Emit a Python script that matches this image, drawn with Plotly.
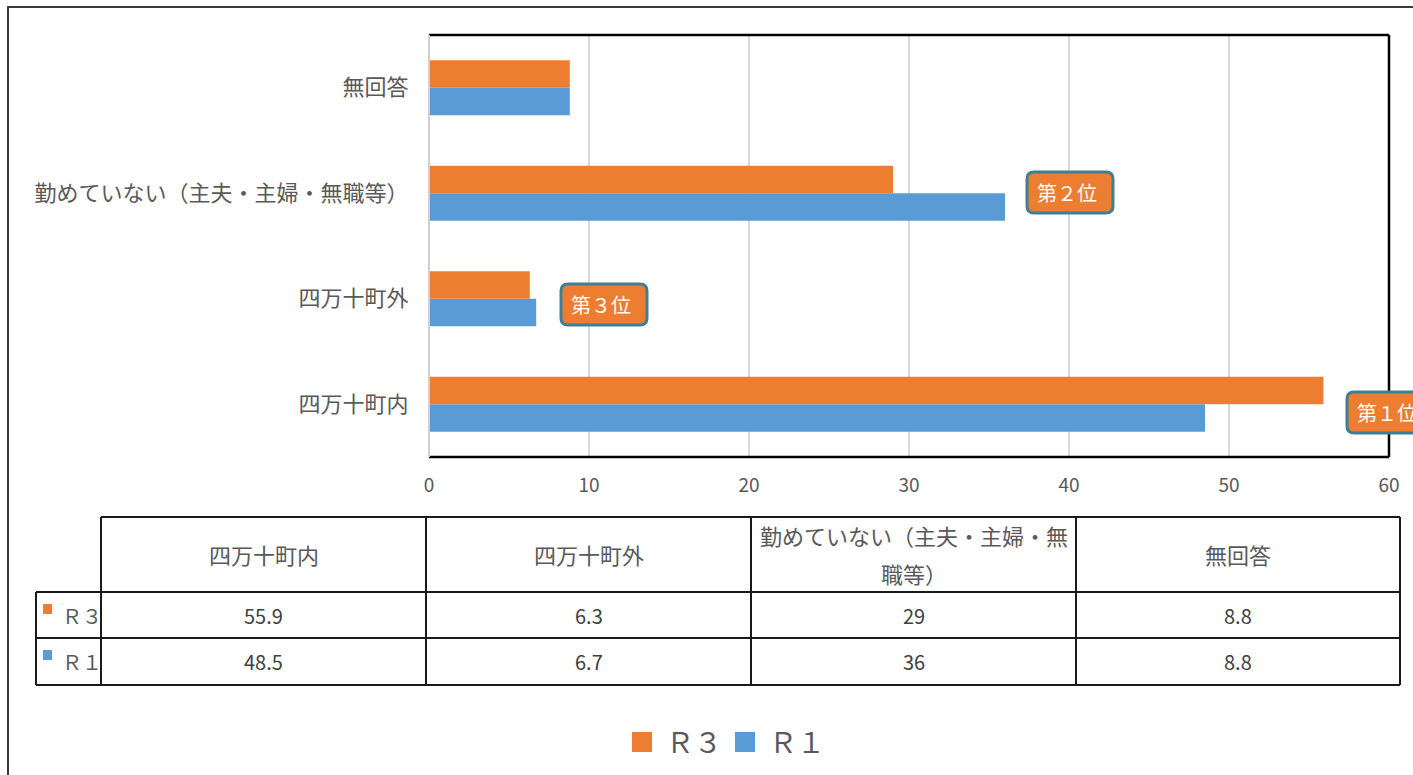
import plotly.graph_objects as go

# ---- data ----
categories = ["四万十町内", "四万十町外", "勤めていない（主夫・主婦・無職等）", "無回答"]
r3_values = [55.9, 6.3, 29, 8.8]
r1_values = [48.5, 6.7, 36, 8.8]
series_names = ["Ｒ３", "Ｒ１"]
rank_labels = ["第１位", "第２位", "第３位"]
x_ticks = [0, 10, 20, 30, 40, 50, 60]

ORANGE = "#ED7D31"
BLUE = "#5B9BD5"
GRAY_TXT = "#595959"
FONT = "Noto Sans CJK JP"

W, H = 1413, 775
L, R, T, B = 429, 1389, 35, 457  # plot area in pixels


def px(x):
    return (x - L) / (R - L)


def py(y):
    return (B - y) / (B - T)


fig = go.Figure()
fig.add_trace(go.Bar(y=categories, x=r1_values, orientation="h", name=series_names[1],
                     marker=dict(color=BLUE, line=dict(width=0)), showlegend=False))
fig.add_trace(go.Bar(y=categories, x=r3_values, orientation="h", name=series_names[0],
                     marker=dict(color=ORANGE, line=dict(width=0)), showlegend=False))

shapes = []
annotations = []

# plot frame: top, right, bottom black; left gray axis
shapes.append(dict(type="line", xref="paper", yref="paper", x0=px(L), x1=px(R), y0=py(T), y1=py(T),
                   line=dict(color="#000000", width=2.5), layer="above"))
shapes.append(dict(type="line", xref="paper", yref="paper", x0=px(R), x1=px(R), y0=py(T), y1=py(B),
                   line=dict(color="#000000", width=2.5), layer="below"))
shapes.append(dict(type="line", xref="paper", yref="paper", x0=px(L), x1=px(R), y0=py(B), y1=py(B),
                   line=dict(color="#000000", width=2.5), layer="above"))
shapes.append(dict(type="line", xref="paper", yref="paper", x0=px(L), x1=px(L), y0=py(T), y1=py(B),
                   line=dict(color="#D0D0D0", width=2), layer="above"))

# outer chart border (partially visible)
shapes.append(dict(type="path", xref="paper", yref="paper",
                   path=f"M {px(8)},{py(800)} L {px(8)},{py(7)} L {px(1450)},{py(7)}",
                   line=dict(color="#3a3a3a", width=2)))


def rounded(x0, y0, x1, y1, r=7):
    return (f"M {px(x0 + r)},{py(y0)} L {px(x1 - r)},{py(y0)} "
            f"Q {px(x1)},{py(y0)} {px(x1)},{py(y0 + r)} "
            f"L {px(x1)},{py(y1 - r)} Q {px(x1)},{py(y1)} {px(x1 - r)},{py(y1)} "
            f"L {px(x0 + r)},{py(y1)} Q {px(x0)},{py(y1)} {px(x0)},{py(y1 - r)} "
            f"L {px(x0)},{py(y0 + r)} Q {px(x0)},{py(y0)} {px(x0 + r)},{py(y0)} Z")


# rank callouts (pixel boxes)
rank_boxes = [(1347, 392, 1440, 433), (1027, 172, 1113, 213), (561, 284, 647, 325)]
for lab, (x0, y0, x1, y1) in zip(rank_labels, rank_boxes):
    shapes.append(dict(type="path", xref="paper", yref="paper", path=rounded(x0, y0, x1, y1),
                       fillcolor=ORANGE, line=dict(color="#3F7F96", width=3), layer="above"))
    annotations.append(dict(xref="paper", yref="paper", x=px(x0 + 8), y=py((y0 + y1) / 2),
                            xanchor="left", yanchor="middle", text=lab, showarrow=False,
                            font=dict(family=FONT, size=20, color="white")))

# ---- data table ----
LINE = dict(color="#1a1a1a", width=2)
col_x = [101, 426, 751, 1076, 1400]
row_y = [517, 592, 638, 685]
for yv in row_y:
    x_start = 101 if yv == 517 else 36
    shapes.append(dict(type="line", xref="paper", yref="paper", x0=px(x_start), x1=px(1400),
                       y0=py(yv), y1=py(yv), line=LINE))
for xv in col_x:
    shapes.append(dict(type="line", xref="paper", yref="paper", x0=px(xv), x1=px(xv),
                       y0=py(517), y1=py(685), line=LINE))
shapes.append(dict(type="line", xref="paper", yref="paper", x0=px(36), x1=px(36),
                   y0=py(592), y1=py(685), line=LINE))

for i, cat in enumerate(categories):
    cx = (col_x[i] + col_x[i + 1]) / 2
    if len(cat) > 14:
        parts = [(cat[:14], 535), (cat[14:], 573)]
    else:
        parts = [(cat, 554)]
    for txt, yy in parts:
        annotations.append(dict(xref="paper", yref="paper", x=px(cx), y=py(yy), text=txt,
                                showarrow=False, xanchor="center", yanchor="middle",
                                font=dict(family=FONT, size=22, color=GRAY_TXT)))
    for vals, yy in ((r3_values, 615), (r1_values, 661)):
        annotations.append(dict(xref="paper", yref="paper", x=px(cx), y=py(yy), text=str(vals[i]),
                                showarrow=False, xanchor="center", yanchor="middle",
                                font=dict(family=FONT, size=20, color="#404040")))

for name, col, yy in ((series_names[0], ORANGE, 615), (series_names[1], BLUE, 661)):
    shapes.append(dict(type="rect", xref="paper", yref="paper", x0=px(43), x1=px(52),
                       y0=py(yy - 11), y1=py(yy - 1), fillcolor=col, line=dict(width=0)))
    annotations.append(dict(xref="paper", yref="paper", x=px(60), y=py(yy), text=name,
                            showarrow=False, xanchor="left", yanchor="middle",
                            font=dict(family=FONT, size=20, color=GRAY_TXT)))

# ---- legend ----
for name, col, x0 in ((series_names[0], ORANGE, 632), (series_names[1], BLUE, 735)):
    shapes.append(dict(type="rect", xref="paper", yref="paper", x0=px(x0), x1=px(x0 + 20),
                       y0=py(752), y1=py(732), fillcolor=col, line=dict(width=0)))
    annotations.append(dict(xref="paper", yref="paper", x=px(x0 + 32), y=py(741), text=name,
                            showarrow=False, xanchor="left", yanchor="middle",
                            font=dict(family=FONT, size=28, color=GRAY_TXT)))

fig.update_layout(
    width=W, height=H,
    margin=dict(l=L, r=W - R, t=T, b=H - B, pad=0),
    paper_bgcolor="white", plot_bgcolor="white",
    barmode="group", bargap=0.48, bargroupgap=0,
    font=dict(family=FONT, color=GRAY_TXT),
    shapes=shapes, annotations=annotations,
    showlegend=False,
)
fig.update_xaxes(range=[0, 60], tickvals=x_ticks, showgrid=True, gridcolor="#D9D9D9", gridwidth=1.5,
                 zeroline=False, showline=False, ticks="outside", ticklen=0, ticklabelstandoff=11,
                 tickfont=dict(family=FONT, size=19, color=GRAY_TXT), fixedrange=True)
fig.update_yaxes(type="category", categoryorder="array", categoryarray=categories,
                 showgrid=False, zeroline=False, showline=False, ticks="outside", ticklen=0,
                 ticklabelstandoff=15, tickfont=dict(family=FONT, size=22, color=GRAY_TXT),
                 fixedrange=True)

fig.write_html("out.html", config={"displayModeBar": False},
               post_script="document.body.style.margin='0';document.body.style.overflow='hidden';")
